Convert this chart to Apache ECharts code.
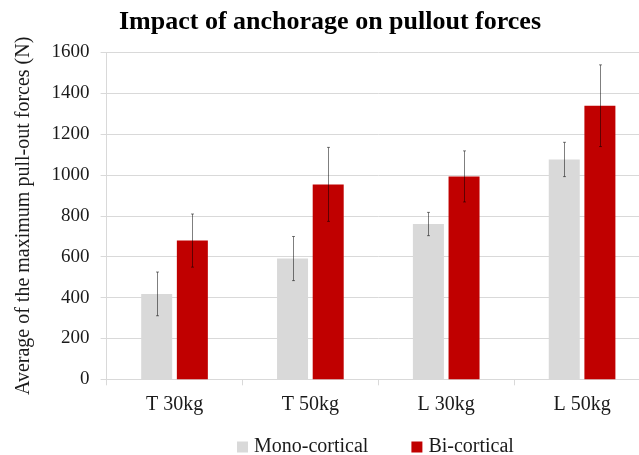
<!DOCTYPE html>
<html>
<head>
<meta charset="utf-8">
<script src="https://cdn.jsdelivr.net/npm/echarts@6/dist/echarts.min.js"></script>
<style>
  html, body { margin: 0; padding: 0; background: #fff; overflow: hidden; }
  /* the original figure is cut off at its right edge, so the chart is a bit wider than the window */
  #chart { width: 650px; height: 455px; }
</style>
</head>
<body>
<div id="chart"></div>
<script>
// data
var categories = ['T 30kg', 'T 50kg', 'L 30kg', 'L 50kg'];
var monoValues = [418, 591, 760, 1076];
var monoErrors = [107, 108, 57, 84];
var biValues = [679, 954, 993, 1339];
var biErrors = [130, 181, 125, 200];
var yTicks = [0, 200, 400, 600, 800, 1000, 1200, 1400, 1600];

var serif = '"Liberation Serif", "Times New Roman", serif';
var BAR_W = 31;
var GAP = 0.15; // barGap
var half = (BAR_W * 2 + BAR_W * GAP) / 2;
var monoOffset = -half + BAR_W / 2;
var biOffset = half - BAR_W / 2;

// builds [index, value, error] triples for the error bar series
function errData(vals, errs) {
	var out = [];
	for (var i = 0; i < vals.length; i++) {
		out.push([i, vals[i], errs[i]]);
	}
	return out;
}

function errRender(offset) {
	return function(params, api) {
		var c = api.value(0), v = api.value(1), e = api.value(2);
		var hi = api.coord([c, v + e]);
		var lo = api.coord([c, v - e]);
		var x = Math.round(hi[0] + offset) + 0.5;
		var st = { stroke: 'rgba(0,0,0,0.5)', lineWidth: 1 };
		return {
			type: 'group',
			children: [
				{ type: 'line', shape: { x1: x, y1: hi[1], x2: x, y2: lo[1] }, style: st },
				{ type: 'line', shape: { x1: x - 1.5, y1: hi[1], x2: x + 1.5, y2: hi[1] }, style: st },
				{ type: 'line', shape: { x1: x - 1.5, y1: lo[1], x2: x + 1.5, y2: lo[1] }, style: st }
			]
		};
	};
}

var myChart = echarts.init(document.getElementById('chart'));
var option = {
	animation: false,
	backgroundColor: '#fff',
	title: {
		text: 'Impact of anchorage on pullout forces',
		left: 325,
		textAlign: 'center',
		top: 4,
		textStyle: { fontFamily: serif, fontWeight: 'bold', fontSize: 26, color: '#000' }
	},
	legend: {
		data: ['Mono-cortical', 'Bi-cortical'],
		left: 232,
		top: 432,
		itemWidth: 11,
		itemHeight: 11,
		itemGap: 43,
		icon: 'rect',
		textStyle: { fontFamily: serif, fontSize: 20, color: '#1a1a1a', padding: [0, 0, 0, 1] }
	},
	grid: { left: 106.6, right: 0, top: 52.4, bottom: 75.7, containLabel: false },
	xAxis: {
		type: 'category',
		data: categories,
		axisLine: { lineStyle: { color: '#d9d9d9' } },
		axisTick: { show: true, length: 6, lineStyle: { color: '#d9d9d9' } },
		axisLabel: { fontFamily: serif, fontSize: 20, color: '#1a1a1a', margin: 15 }
	},
	yAxis: {
		type: 'value',
		min: yTicks[0],
		max: yTicks[yTicks.length - 1],
		interval: 200,
		name: 'Average of the maximum pull-out forces (N)',
		nameLocation: 'middle',
		nameRotate: 90,
		nameGap: 73,
		nameTextStyle: { fontFamily: serif, fontSize: 20, color: '#1a1a1a' },
		axisLine: { show: true, lineStyle: { color: '#d9d9d9' } },
		axisTick: { show: true, length: 6, lineStyle: { color: '#d9d9d9' } },
		axisLabel: {
			fontFamily: serif, fontSize: 19, color: '#1a1a1a', margin: 17,
			formatter: function(v) { return String(v); }
		},
		splitLine: { lineStyle: { color: '#d9d9d9' } }
	},
	series: [
		{
			name: 'Mono-cortical',
			type: 'bar',
			barWidth: BAR_W,
			barGap: (GAP * 100) + '%',
			itemStyle: { color: '#d9d9d9' },
			data: monoValues
		},
		{
			name: 'Bi-cortical',
			type: 'bar',
			barWidth: BAR_W,
			itemStyle: { color: '#c00000' },
			data: biValues
		},
		{
			type: 'custom',
			renderItem: errRender(monoOffset),
			data: errData(monoValues, monoErrors),
			z: 10
		},
		{
			type: 'custom',
			renderItem: errRender(biOffset),
			data: errData(biValues, biErrors),
			z: 10
		}
	]
};
myChart.setOption(option);
</script>
</body>
</html>
